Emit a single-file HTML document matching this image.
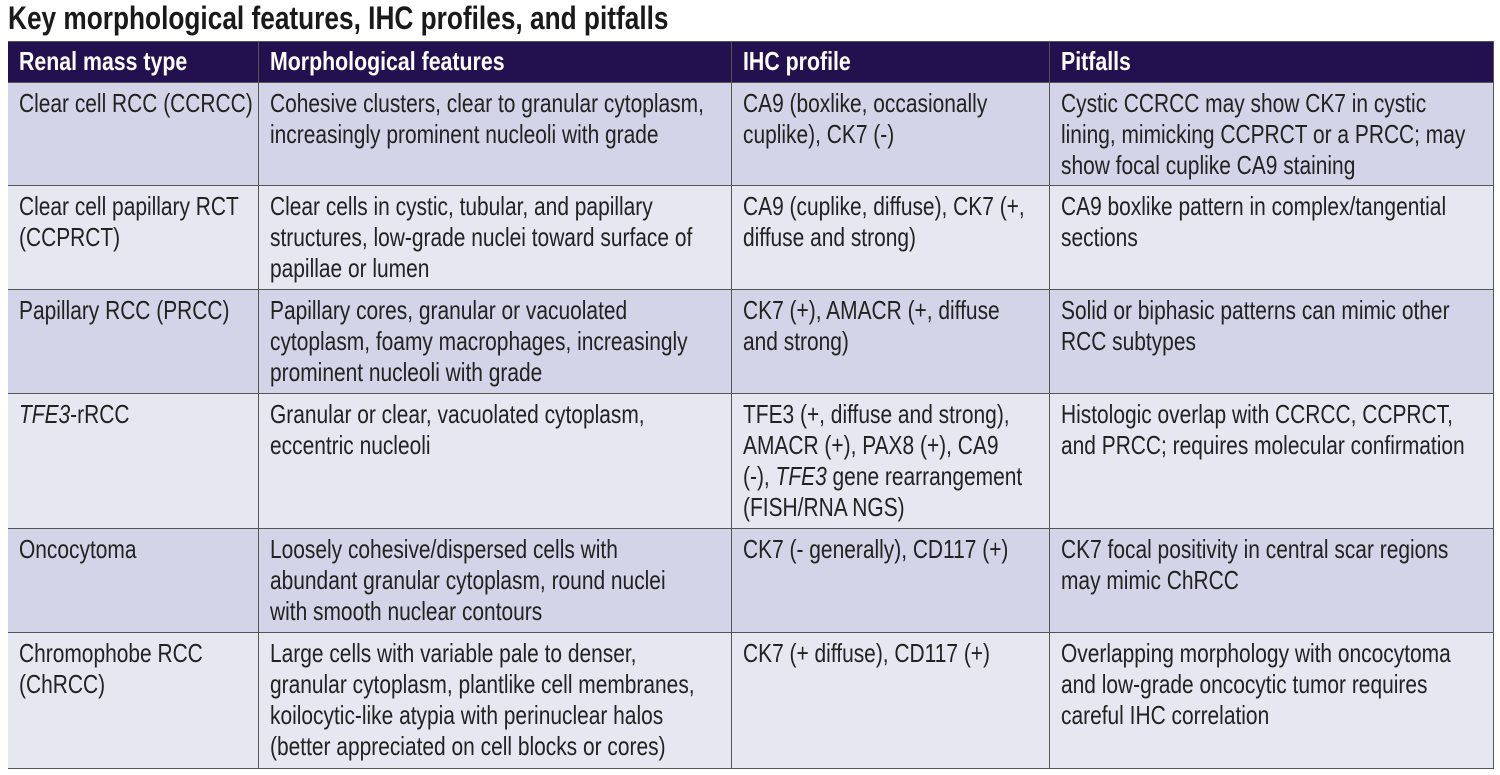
<!DOCTYPE html>
<html><head><meta charset="utf-8"><style>
body{margin:0;width:1500px;height:775px;background:#fff;position:relative;overflow:hidden;font-family:"Liberation Sans",sans-serif;}
.t{position:absolute;left:8px;top:0px;font-size:32px;font-weight:bold;color:#1a1a1a;white-space:nowrap;transform:scaleX(0.82);transform-origin:left;}
.c{position:absolute;box-sizing:border-box;border-right:1.5px solid #555;border-bottom:1.5px solid #555;padding:5px 0 0 11px;font-size:26px;line-height:31px;color:#222;white-space:nowrap;}
.c>span{display:inline-block;transform:scaleX(0.805);transform-origin:left top;}
.h{background:#23104f;color:#fff;font-weight:bold;padding-top:4px;font-size:26px;}
.h>span{transform:scaleX(0.82);}
.o{background:#d3d4e7;}
.e{background:#e7e7f2;}
</style></head><body>
<div class="t">Key morphological features, IHC profiles, and pitfalls</div>
<div style="position:absolute;left:8px;top:41px;width:1486px;height:728px;border-left:1.5px solid #555;border-top:1.5px solid #555;box-sizing:border-box"></div>

<div class="c h" style="left:8px;top:42px;width:251px;height:41px"><span>Renal mass type</span></div>
<div class="c h" style="left:259px;top:42px;width:473px;height:41px"><span>Morphological features</span></div>
<div class="c h" style="left:732px;top:42px;width:318px;height:41px"><span>IHC profile</span></div>
<div class="c h" style="left:1050px;top:42px;width:444px;height:41px"><span>Pitfalls</span></div>

<div class="c o" style="left:8px;top:83px;width:251px;height:103px"><span>Clear cell RCC (CCRCC)</span></div>
<div class="c o" style="left:259px;top:83px;width:473px;height:103px"><span>Cohesive clusters, clear to granular cytoplasm,<br>increasingly prominent nucleoli with grade</span></div>
<div class="c o" style="left:732px;top:83px;width:318px;height:103px"><span>CA9 (boxlike, occasionally<br>cuplike), CK7 (-)</span></div>
<div class="c o" style="left:1050px;top:83px;width:444px;height:103px"><span>Cystic CCRCC may show CK7 in cystic<br>lining, mimicking CCPRCT or a PRCC; may<br>show focal cuplike CA9 staining</span></div>

<div class="c e" style="left:8px;top:186px;width:251px;height:104px"><span>Clear cell papillary RCT<br>(CCPRCT)</span></div>
<div class="c e" style="left:259px;top:186px;width:473px;height:104px"><span>Clear cells in cystic, tubular, and papillary<br>structures, low-grade nuclei toward surface of<br>papillae or lumen</span></div>
<div class="c e" style="left:732px;top:186px;width:318px;height:104px"><span>CA9 (cuplike, diffuse), CK7 (+,<br>diffuse and strong)</span></div>
<div class="c e" style="left:1050px;top:186px;width:444px;height:104px"><span>CA9 boxlike pattern in complex/tangential<br>sections</span></div>

<div class="c o" style="left:8px;top:290px;width:251px;height:104px"><span>Papillary RCC (PRCC)</span></div>
<div class="c o" style="left:259px;top:290px;width:473px;height:104px"><span>Papillary cores, granular or vacuolated<br>cytoplasm, foamy macrophages, increasingly<br>prominent nucleoli with grade</span></div>
<div class="c o" style="left:732px;top:290px;width:318px;height:104px"><span>CK7 (+), AMACR (+, diffuse<br>and strong)</span></div>
<div class="c o" style="left:1050px;top:290px;width:444px;height:104px"><span>Solid or biphasic patterns can mimic other<br>RCC subtypes</span></div>

<div class="c e" style="left:8px;top:394px;width:251px;height:135px"><span><i>TFE3</i>-rRCC</span></div>
<div class="c e" style="left:259px;top:394px;width:473px;height:135px"><span>Granular or clear, vacuolated cytoplasm,<br>eccentric nucleoli</span></div>
<div class="c e" style="left:732px;top:394px;width:318px;height:135px"><span>TFE3 (+, diffuse and strong),<br>AMACR (+), PAX8 (+), CA9<br>(-), <i>TFE3</i> gene rearrangement<br>(FISH/RNA NGS)</span></div>
<div class="c e" style="left:1050px;top:394px;width:444px;height:135px"><span>Histologic overlap with CCRCC, CCPRCT,<br>and PRCC; requires molecular confirmation</span></div>

<div class="c o" style="left:8px;top:529px;width:251px;height:104px"><span>Oncocytoma</span></div>
<div class="c o" style="left:259px;top:529px;width:473px;height:104px"><span>Loosely cohesive/dispersed cells with<br>abundant granular cytoplasm, round nuclei<br>with smooth nuclear contours</span></div>
<div class="c o" style="left:732px;top:529px;width:318px;height:104px"><span>CK7 (- generally), CD117 (+)</span></div>
<div class="c o" style="left:1050px;top:529px;width:444px;height:104px"><span>CK7 focal positivity in central scar regions<br>may mimic ChRCC</span></div>

<div class="c e" style="left:8px;top:633px;width:251px;height:136px"><span>Chromophobe RCC<br>(ChRCC)</span></div>
<div class="c e" style="left:259px;top:633px;width:473px;height:136px"><span>Large cells with variable pale to denser,<br>granular cytoplasm, plantlike cell membranes,<br>koilocytic-like atypia with perinuclear halos<br>(better appreciated on cell blocks or cores)</span></div>
<div class="c e" style="left:732px;top:633px;width:318px;height:136px"><span>CK7 (+ diffuse), CD117 (+)</span></div>
<div class="c e" style="left:1050px;top:633px;width:444px;height:136px"><span>Overlapping morphology with oncocytoma<br>and low-grade oncocytic tumor requires<br>careful IHC correlation</span></div>
</body></html>
